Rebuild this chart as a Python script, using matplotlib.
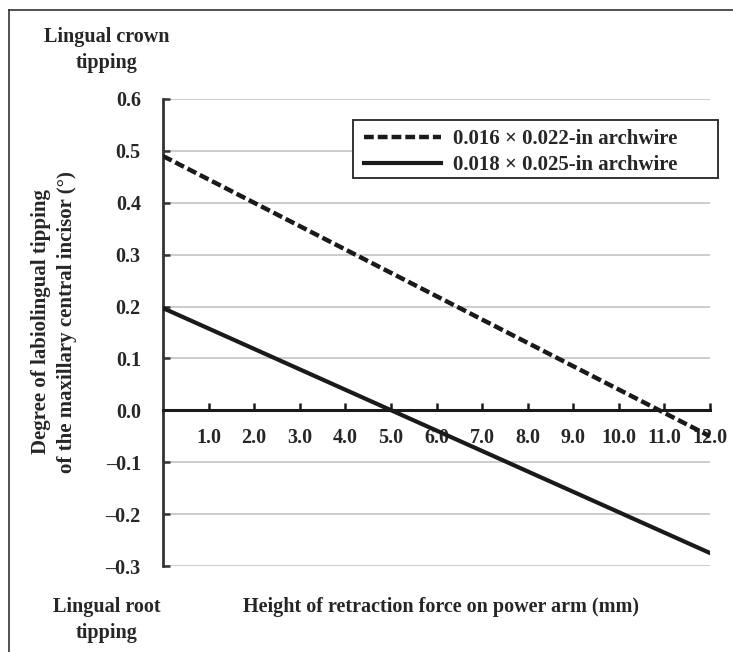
import matplotlib
matplotlib.use('Agg')
import matplotlib.pyplot as plt
from matplotlib.lines import Line2D
from matplotlib.patches import Rectangle

plt.rcParams['font.family'] = ['Liberation Serif', 'DejaVu Serif']
plt.rcParams['font.weight'] = 'bold'

# Data (end points of the two fitted lines)
height_mm = [0.0, 12.0]
wire_016x022 = [0.49, -0.05]
wire_018x025 = [0.197, -0.275]
labels = ['0.016 \u00d7 0.022-in archwire', '0.018 \u00d7 0.025-in archwire']
x_ticks = [1, 2, 3, 4, 5, 6, 7, 8, 9, 10, 11, 12]
y_ticks = [0.6, 0.5, 0.4, 0.3, 0.2, 0.1, 0.0, -0.1, -0.2, -0.3]

txt = '#262626'
fig = plt.figure(figsize=(7.33, 6.52), dpi=100)
ax = fig.add_axes([163 / 733, 86 / 652, 547 / 733, 467 / 652])

ax.set_xlim(0, 12)
ax.set_ylim(-0.3, 0.6)

# gridlines
for y in y_ticks:
    if y != 0.0:
        ax.axhline(y, color='#c4c4c4', lw=1.2, zorder=0)

dash = (0, (2.2, 0.9))
ax.plot(height_mm, wire_016x022, color='#1a1a1a', lw=3.2, ls=dash,
        dash_capstyle='butt', zorder=3)
ax.plot(height_mm, wire_018x025, color='#1a1a1a', lw=3.0, zorder=3)

for s in ['top', 'right']:
    ax.spines[s].set_visible(False)
ax.spines['left'].set_color('#333333')
ax.spines['left'].set_linewidth(2.0)
ax.spines['bottom'].set_position(('data', 0))
ax.spines['bottom'].set_color('#1a1a1a')
ax.spines['bottom'].set_linewidth(2.2)

ax.set_xticks(x_ticks)
ax.set_xticklabels([f'{v:.1f}' for v in x_ticks])
ax.set_yticks(y_ticks)
ax.set_yticklabels([f'{v:.1f}'.replace('-', '\u2013') for v in y_ticks])
ax.tick_params(axis='x', direction='in', length=5, width=1.8, color='#1a1a1a',
               pad=13, labelsize=14.5, labelcolor=txt)
ax.tick_params(axis='y', direction='in', length=5, width=1.8, color='#333333',
               pad=16, labelsize=14.5, labelcolor=txt)

# legend box (drawn by hand, it is wider than its text)
ax.add_patch(Rectangle((190 / 547, 388 / 467), 365 / 547, 58 / 467,
                       transform=ax.transAxes, fill=True, facecolor='white',
                       edgecolor='#333333', lw=1.4, clip_on=False, zorder=4))
handles = [Line2D([], [], color='#1a1a1a', lw=3.2, ls=dash),
           Line2D([], [], color='#1a1a1a', lw=3.0)]
leg = ax.legend(handles, labels, loc='upper left', bbox_to_anchor=(197 / 547, 441 / 467),
                fontsize=15, frameon=False, handlelength=3.7,
                handletextpad=0.55, borderpad=0.2, labelspacing=0.3,
                borderaxespad=0)
leg.set_zorder(5)
for t in leg.get_texts():
    t.set_color(txt)

fig.text(54 / 733, 1 - 322 / 652,
         'Degree of labiolingual tipping\nof the maxillary central incisor (\u00b0)',
         rotation=90, ha='center', va='center', fontsize=15, color=txt,
         linespacing=1.4)
fig.text(107 / 733, 1 - 50 / 652, 'Lingual crown\ntipping', ha='center', va='center',
         fontsize=14.5, color=txt, linespacing=1.45)
fig.text(107 / 733, 1 - 620 / 652, 'Lingual root\ntipping', ha='center', va='center',
         fontsize=14.5, color=txt, linespacing=1.45)
fig.text(441 / 733, 1 - 607 / 652, 'Height of retraction force on power arm (mm)',
         ha='center', va='center', fontsize=14.5, color=txt)

# frame around the figure (top and left edges)
fig.add_artist(Line2D([9 / 733, 9 / 733], [0, 1 - 10 / 652], transform=fig.transFigure,
                      color='#333333', lw=1.2))
fig.add_artist(Line2D([9 / 733, 1], [1 - 10 / 652, 1 - 10 / 652], transform=fig.transFigure,
                      color='#333333', lw=1.2))

fig.savefig('out.png', dpi=100)
